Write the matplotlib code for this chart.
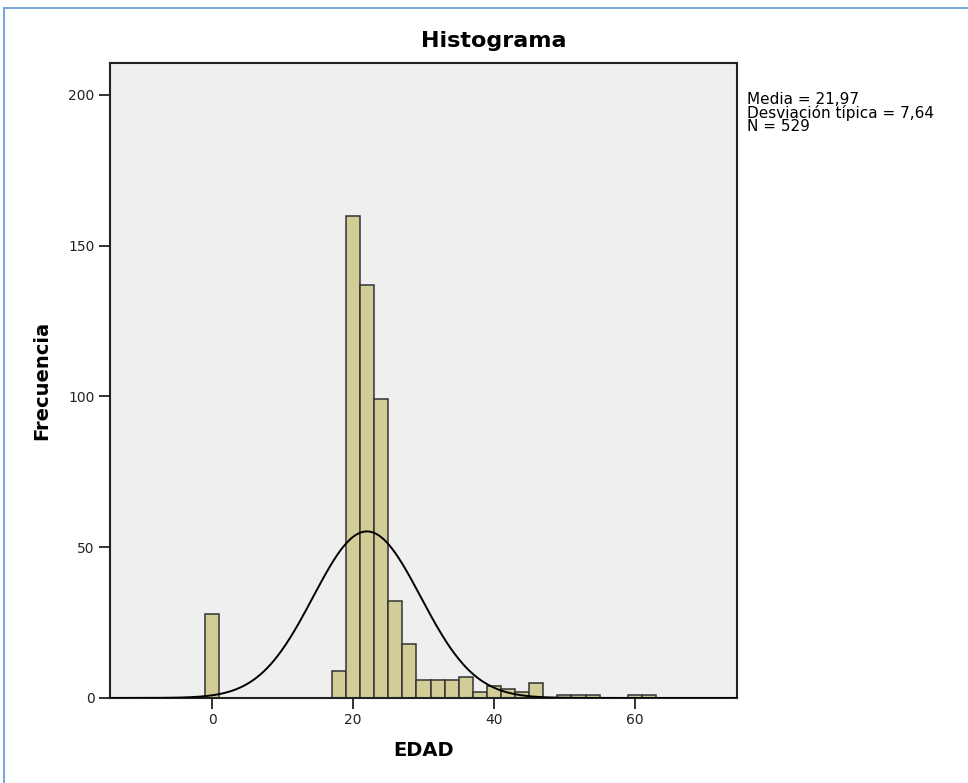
import numpy as np
import matplotlib
matplotlib.use("Agg")
import matplotlib.pyplot as plt
from matplotlib.lines import Line2D

# histogram of EDAD, bins of width 2 (left edges)
bin_left = [-1, 17, 19, 21, 23, 25, 27, 29, 31, 33, 35, 37, 39, 41, 43, 45, 49, 51, 53, 59, 61]
counts = [28, 9, 160, 137, 99, 32, 18, 6, 6, 6, 7, 2, 4, 3, 2, 5, 1, 1, 1, 1, 1]
bin_width = 2

media = 21.97
desv = 7.64
n_total = 529

x_ticks = [0, 20, 40, 60]
y_ticks = [0, 50, 100, 150, 200]

fig = plt.figure(figsize=(9.68, 7.83), dpi=100)
ax = fig.add_axes([0.1136, 0.1086, 0.6478, 0.8109])
ax.set_facecolor("#efefef")

ax.bar(bin_left, counts, width=bin_width, align="edge",
       color="#d2cd96", edgecolor="#333333", linewidth=1.1, zorder=2)

# normal curve scaled to the counts
xs = np.linspace(-14.5, 74.5, 600)
ys = n_total * bin_width / (desv * np.sqrt(2 * np.pi)) * np.exp(-0.5 * ((xs - media) / desv) ** 2)
ax.plot(xs, ys, color="black", linewidth=1.4, zorder=3)

ax.set_xlim(-14.5, 74.5)
ax.set_ylim(0, 210.6)
ax.set_xticks(x_ticks)
ax.set_yticks(y_ticks)
ax.tick_params(axis="both", length=8, width=1.3, labelsize=10, colors="#222222", pad=3)
for s in ax.spines.values():
    s.set_linewidth(1.5)
    s.set_color("#222222")

ax.set_xlabel("EDAD", fontsize=14, fontweight="bold", labelpad=10)
ax.set_ylabel("Frecuencia", fontsize=14, fontweight="bold", labelpad=12)

fig.text(0.510, 0.947, "Histograma", ha="center", va="center",
         fontsize=16, fontweight="bold")

fig.text(0.772, 0.883, "Media = 21,97\nDesviación típica = 7,64\nN = 529",
         ha="left", va="top", fontsize=11, linespacing=0.85)

# blue frame around the output
fig.add_artist(Line2D([0.004, 0.004], [0, 0.990], transform=fig.transFigure,
                      color="#7ba7d9", linewidth=1.5))
fig.add_artist(Line2D([0.004, 1.0], [0.990, 0.990], transform=fig.transFigure,
                      color="#7ba7d9", linewidth=1.5))

fig.savefig("out.png", dpi=100)
